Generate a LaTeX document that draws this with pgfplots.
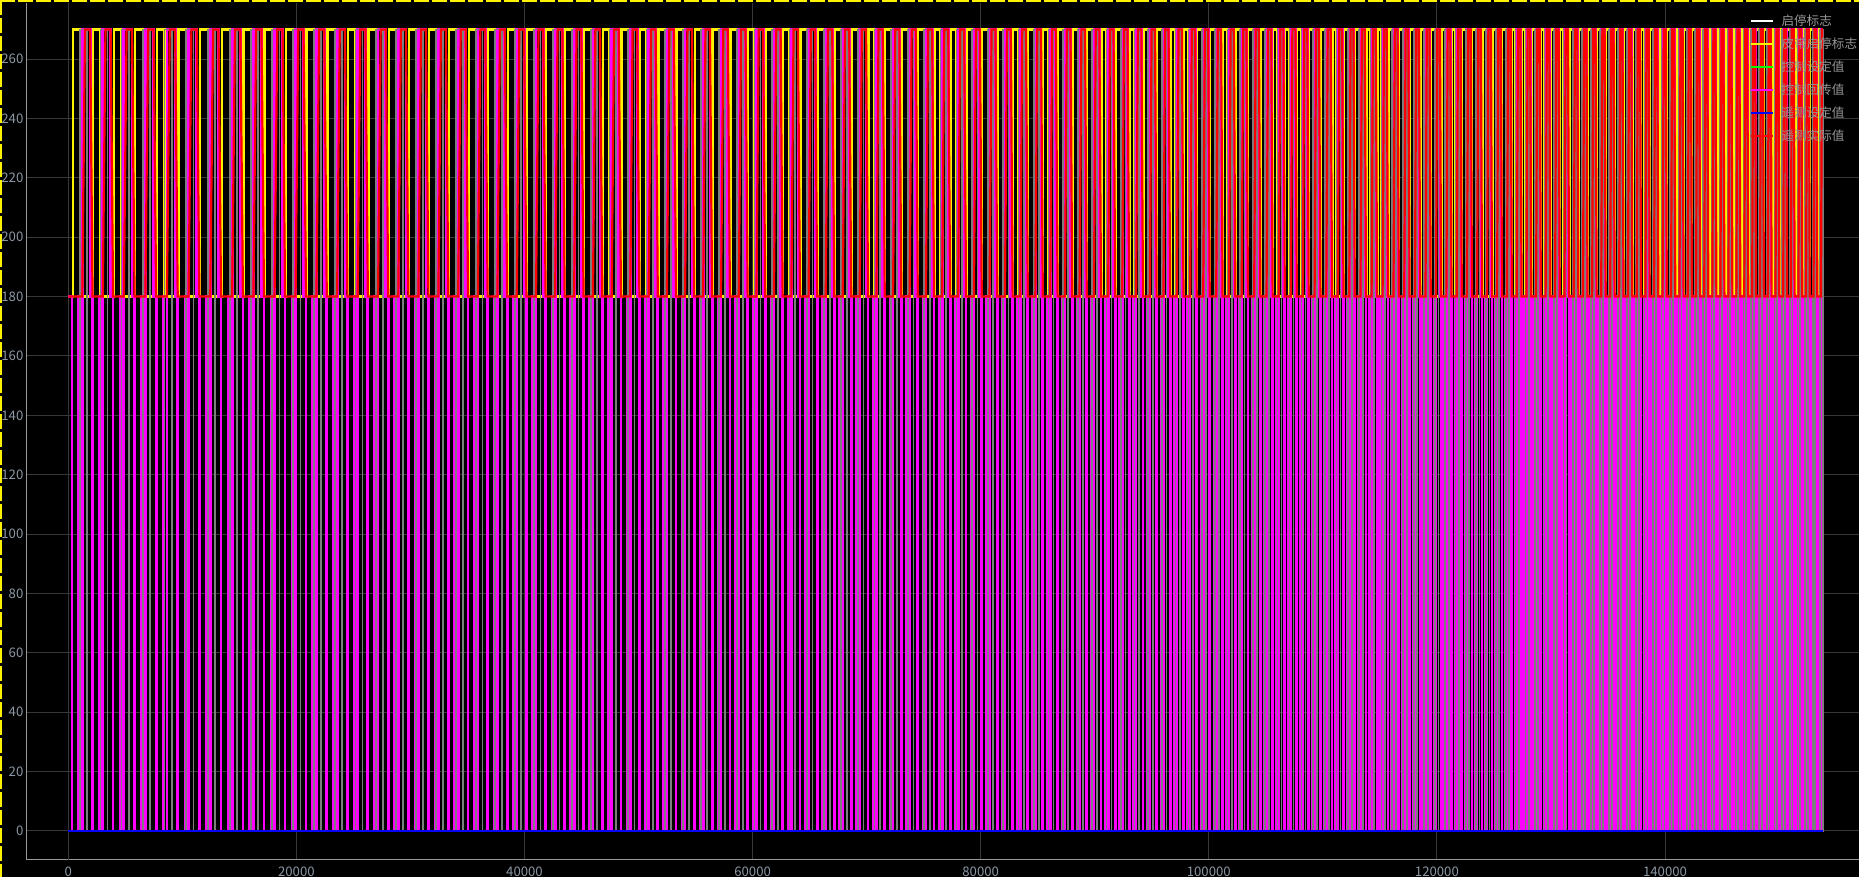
\documentclass[border=0pt]{standalone}
\usepackage{pgfplots}
\pgfplotsset{compat=1.18}
\usepackage{fontspec}
\setmainfont{Noto Sans CJK SC}
\definecolor{ticklab}{RGB}{140,152,165}
\definecolor{legtext}{RGB}{150,150,150}
\definecolor{mag}{RGB}{255,0,255}
\definecolor{flaggray}{RGB}{125,125,125}
\begin{document}
\begin{tikzpicture}
\fill[black] (0,0) rectangle (929.5pt,438.5pt);
\begin{axis}[
 at={(13.5pt,8.5pt)}, anchor=south west, scale only axis,
 width=916pt, height=428.5pt,
 xmin=-3621, xmax=157010, ymin=-9.8, ymax=278.9,
 axis lines*=left, axis line style={draw=white!60!black, line width=0.5pt},
 major tick length=0pt,
 xtick={0,20000,40000,60000,80000,100000,120000,140000}, ytick={0,20,...,260},
 scaled x ticks=false, scaled y ticks=false,
 /pgf/number format/fixed, /pgf/number format/precision=0,
 /pgf/number format/1000 sep={},
 /pgf/number format/assume math mode=true,
 grid=major, major grid style={draw=white!22!black, line width=0.5pt},
 extra x ticks={0}, extra x tick labels={}, extra x tick style={grid style={draw=white!50!black, line width=0.5pt}},
 extra y ticks={0,200}, extra y tick labels={}, extra y tick style={grid style={draw=white!50!black, line width=0.5pt}},
 tick label style={font=\fontsize{6.6}{8}\selectfont, text=ticklab},
 yticklabel style={inner xsep=1.6pt},
 legend image code/.code={\draw[#1, line width=1pt] (0pt,0pt) -- (11pt,0pt);},
 legend style={at={(0.94,0.987)}, anchor=north west, draw=none, fill=none,
   font=\fontsize{6.3}{7}\selectfont, text=legtext, inner sep=0pt, row sep=4.8pt,
   nodes={inner sep=0pt, text height=5.5pt, text depth=1.2pt},
   /tikz/every odd column/.append style={column sep=4pt}},
 legend cell align=left,
]
\addlegendimage{white}
\addlegendimage{yellow}
\addlegendimage{green}
\addlegendimage{mag}
\addlegendimage{blue}
\addlegendimage{red}
% 皮带启停标志
\addplot[forget plot, const plot, draw=yellow, line width=1.15pt] table[row sep=\\] {
0 180\\
383 270\\1031 180\\2180 270\\2828 180\\3980 270\\4660 180\\5870 270\\6550 180\\7760 270\\8440 180\\
9660 270\\10340 180\\11560 270\\12240 180\\13480 270\\14160 180\\15355 270\\16025 180\\17216 270\\17881 180\\
19064 270\\19724 180\\20898 270\\21554 180\\22719 270\\23370 180\\24527 270\\25173 180\\26322 270\\26964 180\\
28104 270\\28741 180\\29873 270\\30505 180\\31629 270\\32256 180\\33372 270\\33995 180\\35103 270\\35721 180\\
36821 270\\37435 180\\38527 270\\39137 180\\40221 270\\40826 180\\41902 270\\42503 180\\43571 270\\44168 180\\
45228 270\\45820 180\\46873 270\\47461 180\\48506 270\\49090 180\\50127 270\\50707 180\\51737 270\\52312 180\\
53335 270\\53906 180\\54921 270\\55488 180\\56496 270\\57059 180\\58059 270\\58618 180\\59611 270\\60166 180\\
61152 270\\61703 180\\62682 270\\63229 180\\64201 270\\64744 180\\65709 270\\66248 180\\67206 270\\67741 180\\
68692 270\\69223 180\\70167 270\\70694 180\\71631 270\\72154 180\\73085 270\\73604 180\\74528 270\\75041 180\\
75954 270\\76462 180\\77364 270\\77865 180\\78757 270\\79253 180\\80134 270\\80624 180\\81495 270\\81979 180\\
82840 270\\83319 180\\84170 270\\84643 180\\85484 270\\85952 180\\86783 270\\87245 180\\88067 270\\88524 180\\
89336 270\\89787 180\\90590 270\\91036 180\\91830 270\\92271 180\\93055 270\\93491 180\\94266 270\\94697 180\\
95463 270\\95889 180\\96646 270\\97067 180\\97816 270\\98232 180\\98972 270\\99383 180\\100115 270\\100521 180\\
101244 270\\101646 180\\102360 270\\102757 180\\103463 270\\103855 180\\104553 270\\104941 180\\105631 270\\106014 180\\
106696 270\\107075 180\\107749 270\\108124 180\\108790 270\\109160 180\\109819 270\\110185 180\\110836 270\\111198 180\\
111841 270\\112198 180\\112834 270\\113188 180\\113816 270\\114165 180\\114786 270\\115131 180\\115745 270\\116086 180\\
116693 270\\117031 180\\117632 270\\117967 180\\118563 270\\118895 180\\119486 270\\119815 180\\120401 270\\120728 180\\
121309 270\\121633 180\\122209 270\\122530 180\\123101 270\\123420 180\\123986 270\\124302 180\\124863 270\\125176 180\\
125733 270\\126043 180\\126595 270\\126903 180\\127450 270\\127755 180\\128298 270\\128600 180\\129138 270\\129438 180\\
129971 270\\130268 180\\130797 270\\131092 180\\131616 270\\131908 180\\132428 270\\132718 180\\133233 270\\133521 180\\
134032 270\\134317 180\\134824 270\\135107 180\\135609 270\\135889 180\\136387 270\\136665 180\\137159 270\\137434 180\\
137924 270\\138197 180\\138683 270\\138954 180\\139435 270\\139704 180\\140181 270\\140447 180\\140921 270\\141185 180\\
141654 270\\141916 180\\142381 270\\142641 180\\143102 270\\143359 180\\143817 270\\144072 180\\144525 270\\144778 180\\
145229 270\\145481 180\\145929 270\\146180 180\\146625 270\\146874 180\\147317 270\\147565 180\\148005 270\\148251 180\\
148689 270\\148934 180\\149369 270\\149612 180\\150045 270\\150287 180\\150718 270\\150959 180\\151387 270\\151627 180\\
152052 270\\152290 180\\152713 270\\152950 180\\153370 270\\153605 180\\153830 180\\
};
% 控制回传值
\addplot[forget plot, const plot, draw=mag, line width=1.4pt] table[row sep=\\] {
0 180\\329 0\\
923 180\\977 0\\1229 270\\1913 180\\2129 0\\
2720 180\\2774 0\\3026 270\\3710 180\\3926 0\\
4547 180\\4604 0\\4868 270\\5587 180\\5813 0\\
6437 180\\6494 0\\6758 270\\7477 180\\7703 0\\
8327 180\\8384 0\\8648 270\\9367 180\\9593 0\\
10227 180\\10284 0\\10548 270\\11267 180\\11493 0\\
12127 180\\12184 0\\12448 270\\13167 180\\13393 0\\
14047 180\\14104 0\\14368 270\\15087 180\\15313 0\\
15913 180\\15969 0\\16230 270\\16937 180\\17160 0\\
17770 180\\17826 0\\18085 270\\18787 180\\19009 0\\
19614 180\\19669 0\\19926 270\\20623 180\\20843 0\\
21444 180\\21499 0\\21754 270\\22446 180\\22664 0\\
23261 180\\23316 0\\23569 270\\24256 180\\24473 0\\
25066 180\\25119 0\\25371 270\\26053 180\\26268 0\\
26857 180\\26910 0\\27160 270\\27837 180\\28051 0\\
28635 180\\28688 0\\28935 270\\29608 180\\29820 0\\
30400 180\\30453 0\\30698 270\\31366 180\\31576 0\\
32152 180\\32204 0\\32448 270\\33111 180\\33320 0\\
33891 180\\33943 0\\34186 270\\34843 180\\35051 0\\
35618 180\\35670 0\\35910 270\\36563 180\\36769 0\\
37333 180\\37384 0\\37623 270\\38271 180\\38476 0\\
39035 180\\39086 0\\39323 270\\39967 180\\40170 0\\
40725 180\\40776 0\\41011 270\\41650 180\\41852 0\\
42403 180\\42453 0\\42686 270\\43321 180\\43521 0\\
44068 180\\44118 0\\44350 270\\44979 180\\45178 0\\
45722 180\\45771 0\\46001 270\\46626 180\\46824 0\\
47363 180\\47412 0\\47641 270\\48261 180\\48457 0\\
48992 180\\49041 0\\49268 270\\49884 180\\50078 0\\
50610 180\\50658 0\\50884 270\\51496 180\\51689 0\\
52216 180\\52264 0\\52488 270\\53095 180\\53287 0\\
53811 180\\53858 0\\54080 270\\54683 180\\54873 0\\
55394 180\\55441 0\\55661 270\\56260 180\\56449 0\\
56965 180\\57012 0\\57231 270\\57825 180\\58012 0\\
58525 180\\58571 0\\58788 270\\59378 180\\59564 0\\
60073 180\\60119 0\\60335 270\\60921 180\\61106 0\\
61611 180\\61657 0\\61871 270\\62453 180\\62636 0\\
63138 180\\63183 0\\63396 270\\63973 180\\64155 0\\
64653 180\\64699 0\\64910 270\\65483 180\\65664 0\\
66158 180\\66203 0\\66413 270\\66981 180\\67161 0\\
67652 180\\67696 0\\67904 270\\68469 180\\68647 0\\
69135 180\\69179 0\\69385 270\\69946 180\\70123 0\\
70606 180\\70650 0\\70855 270\\71411 180\\71587 0\\
72067 180\\72111 0\\72314 270\\72867 180\\73041 0\\
73518 180\\73561 0\\73763 270\\74312 180\\74485 0\\
74956 180\\74999 0\\75198 270\\75740 180\\75911 0\\
76377 180\\76419 0\\76617 270\\77153 180\\77322 0\\
77782 180\\77824 0\\78019 270\\78548 180\\78715 0\\
79170 180\\79211 0\\79404 270\\79927 180\\80093 0\\
80542 180\\80583 0\\80774 270\\81291 180\\81454 0\\
81899 180\\81939 0\\82127 270\\82638 180\\82800 0\\
83239 180\\83279 0\\83465 270\\83971 180\\84130 0\\
84564 180\\84604 0\\84788 270\\85287 180\\85445 0\\
85874 180\\85913 0\\86095 270\\86588 180\\86744 0\\
87168 180\\87207 0\\87386 270\\87874 180\\88028 0\\
88448 180\\88486 0\\88663 270\\89146 180\\89298 0\\
89712 180\\89750 0\\89925 270\\90402 180\\90552 0\\
90962 180\\90999 0\\91173 270\\91644 180\\91793 0\\
92198 180\\92234 0\\92406 270\\92871 180\\93018 0\\
93418 180\\93455 0\\93624 270\\94084 180\\94230 0\\
94625 180\\94661 0\\94829 270\\95283 180\\95427 0\\
95818 180\\95853 0\\96019 270\\96469 180\\96611 0\\
96997 180\\97032 0\\97196 270\\97641 180\\97781 0\\
98163 180\\98197 0\\98359 270\\98799 180\\98937 0\\
99315 180\\99349 0\\99509 270\\99944 180\\100081 0\\
100454 180\\100488 0\\100646 270\\101075 180\\101210 0\\
101579 180\\101612 0\\101769 270\\102193 180\\102327 0\\
102691 180\\102724 0\\102878 270\\103298 180\\103430 0\\
103790 180\\103823 0\\103975 270\\104390 180\\104520 0\\
104876 180\\104909 0\\105060 270\\105469 180\\105599 0\\
105951 180\\105983 0\\106132 270\\106536 180\\106664 0\\
107012 180\\107044 0\\107191 270\\107591 180\\107717 0\\
108061 180\\108093 0\\108238 270\\108634 180\\108759 0\\
109099 180\\109130 0\\109274 270\\109665 180\\109788 0\\
110124 180\\110155 0\\110297 270\\110683 180\\110805 0\\
111138 180\\111168 0\\111308 270\\111690 180\\111811 0\\
112139 180\\112169 0\\112308 270\\112685 180\\112804 0\\
113129 180\\113158 0\\113296 270\\113669 180\\113787 0\\
114107 180\\114136 0\\114272 270\\114641 180\\114757 0\\
115074 180\\115103 0\\115237 270\\115601 180\\115716 0\\
116029 180\\116058 0\\116191 270\\116551 180\\116665 0\\
116975 180\\117003 0\\117134 270\\117491 180\\117604 0\\
117911 180\\117939 0\\118070 270\\118423 180\\118535 0\\
118840 180\\118868 0\\118997 270\\119348 180\\119458 0\\
119761 180\\119788 0\\119916 270\\120264 180\\120374 0\\
120673 180\\120701 0\\120828 270\\121173 180\\121282 0\\
121579 180\\121606 0\\121732 270\\122074 180\\122182 0\\
122477 180\\122503 0\\122628 270\\122967 180\\123074 0\\
123367 180\\123393 0\\123517 270\\123853 180\\123959 0\\
124249 180\\124275 0\\124398 270\\124731 180\\124837 0\\
125124 180\\125150 0\\125272 270\\125603 180\\125707 0\\
125992 180\\126018 0\\126138 270\\126466 180\\126569 0\\
126852 180\\126877 0\\126997 270\\127322 180\\127424 0\\
127704 180\\127730 0\\127849 270\\128171 180\\128273 0\\
128550 180\\128575 0\\128693 270\\129012 180\\129113 0\\
129388 180\\129413 0\\129530 270\\129846 180\\129946 0\\
130219 180\\130244 0\\130359 270\\130673 180\\130772 0\\
131043 180\\131067 0\\131182 270\\131493 180\\131591 0\\
131860 180\\131884 0\\131998 270\\132306 180\\132404 0\\
132670 180\\132694 0\\132806 270\\133112 180\\133209 0\\
133473 180\\133497 0\\133609 270\\133912 180\\134008 0\\
134270 180\\134293 0\\134404 270\\134705 180\\134800 0\\
135060 180\\135083 0\\135193 270\\135491 180\\135585 0\\
135842 180\\135866 0\\135975 270\\136270 180\\136364 0\\
136619 180\\136642 0\\136750 270\\137043 180\\137136 0\\
137389 180\\137412 0\\137519 270\\137809 180\\137901 0\\
138152 180\\138175 0\\138281 270\\138569 180\\138660 0\\
138909 180\\138931 0\\139036 270\\139322 180\\139412 0\\
139659 180\\139681 0\\139786 270\\140069 180\\140159 0\\
140403 180\\140425 0\\140529 270\\140810 180\\140899 0\\
141141 180\\141163 0\\141266 270\\141544 180\\141632 0\\
141872 180\\141894 0\\141996 270\\142272 180\\142359 0\\
142597 180\\142619 0\\142720 270\\142994 180\\143080 0\\
143317 180\\143338 0\\143438 270\\143710 180\\143796 0\\
144029 180\\144051 0\\144150 270\\144419 180\\144504 0\\
144736 180\\144757 0\\144856 270\\145123 180\\145208 0\\
145439 180\\145460 0\\145558 270\\145824 180\\145908 0\\
146138 180\\146159 0\\146256 270\\146521 180\\146604 0\\
146833 180\\146853 0\\146950 270\\147213 180\\147296 0\\
147523 180\\147544 0\\147640 270\\147902 180\\147984 0\\
148210 180\\148231 0\\148326 270\\148586 180\\148668 0\\
148893 180\\148913 0\\149009 270\\149267 180\\149349 0\\
149572 180\\149592 0\\149687 270\\149944 180\\150025 0\\
150247 180\\150267 0\\150361 270\\150617 180\\150698 0\\
150919 180\\150939 0\\151032 270\\151287 180\\151367 0\\
151587 180\\151607 0\\151700 270\\151952 180\\152032 0\\
152250 180\\152270 0\\152363 270\\152614 180\\152693 0\\
152910 180\\152930 0\\153022 270\\153271 180\\153350 0\\
153566 180\\153586 0\\153677 270\\153830 270\\
};
% 启停标志 (shown grey)
\addplot[forget plot, const plot, draw=flaggray, line width=0.85pt] table[row sep=\\] {
0 0\\
1031 270\\1643 0\\2828 270\\3440 0\\4660 270\\5303 0\\6550 270\\7193 0\\8440 270\\9083 0\\
10340 270\\10983 0\\12240 270\\12883 0\\14160 270\\14803 0\\16025 270\\16658 0\\17881 270\\18510 0\\
19724 270\\20348 0\\21554 270\\22173 0\\23370 270\\23985 0\\25173 270\\25784 0\\26964 270\\27569 0\\
28741 270\\29342 0\\30505 270\\31102 0\\32256 270\\32849 0\\33995 270\\34584 0\\35721 270\\36306 0\\
37435 270\\38015 0\\39137 270\\39713 0\\40826 270\\41398 0\\42503 270\\43070 0\\44168 270\\44731 0\\
45820 270\\46380 0\\47461 270\\48016 0\\49090 270\\49641 0\\50707 270\\51254 0\\52312 270\\52856 0\\
53906 270\\54445 0\\55488 270\\56024 0\\57059 270\\57590 0\\58618 270\\59145 0\\60166 270\\60690 0\\
61703 270\\62223 0\\63229 270\\63745 0\\64744 270\\65257 0\\66248 270\\66757 0\\67741 270\\68246 0\\
69223 270\\69725 0\\70694 270\\71192 0\\72154 270\\72649 0\\73604 270\\74095 0\\75041 270\\75526 0\\
76462 270\\76941 0\\77865 270\\78339 0\\79253 270\\79721 0\\80624 270\\81087 0\\81979 270\\82437 0\\
83319 270\\83771 0\\84643 270\\85090 0\\85952 270\\86393 0\\87245 270\\87682 0\\88524 270\\88955 0\\
89787 270\\90214 0\\91036 270\\91458 0\\92271 270\\92688 0\\93491 270\\93903 0\\94697 270\\95104 0\\
95889 270\\96291 0\\97067 270\\97465 0\\98232 270\\98625 0\\99383 270\\99772 0\\100521 270\\100905 0\\
101646 270\\102025 0\\102757 270\\103132 0\\103855 270\\104226 0\\104941 270\\105308 0\\106014 270\\106377 0\\
107075 270\\107433 0\\108124 270\\108478 0\\109160 270\\109510 0\\110185 270\\110531 0\\111198 270\\111540 0\\
112198 270\\112536 0\\113188 270\\113521 0\\114165 270\\114495 0\\115131 270\\115457 0\\116086 270\\116409 0\\
117031 270\\117350 0\\117967 270\\118284 0\\118895 270\\119209 0\\119815 270\\120127 0\\120728 270\\121037 0\\
121633 270\\121939 0\\122530 270\\122833 0\\123420 270\\123721 0\\124302 270\\124600 0\\125176 270\\125472 0\\
126043 270\\126336 0\\126903 270\\127194 0\\127755 270\\128044 0\\128600 270\\128886 0\\129438 270\\129721 0\\
130268 270\\130549 0\\131092 270\\131370 0\\131908 270\\132184 0\\132718 270\\132992 0\\133521 270\\133792 0\\
134317 270\\134586 0\\135107 270\\135374 0\\135889 270\\136154 0\\136665 270\\136927 0\\137434 270\\137695 0\\
138197 270\\138455 0\\138954 270\\139209 0\\139704 270\\139957 0\\140447 270\\140699 0\\141185 270\\141434 0\\
141916 270\\142163 0\\142641 270\\142886 0\\143359 270\\143603 0\\144072 270\\144313 0\\144778 270\\145018 0\\
145481 270\\145719 0\\146180 270\\146416 0\\146874 270\\147109 0\\147565 270\\147799 0\\148251 270\\148484 0\\
148934 270\\149165 0\\149612 270\\149842 0\\150287 270\\150516 0\\150959 270\\151186 0\\151627 270\\151853 0\\
152290 270\\152515 0\\152950 270\\153173 0\\153605 270\\153828 0\\153830 0\\
};
% 遥测设定值
\addplot[forget plot, draw=blue, line width=1pt] table[row sep=\\] {
0 0\\153830 0\\
};
% 遥测实际值
\addplot[forget plot, draw=red, line width=1.1pt] table[row sep=\\] {
0 180\\
1229 180\\1463 270\\1913 270\\2129 180\\3026 180\\3260 270\\3710 270\\3926 180\\
4868 180\\5114 270\\5587 270\\5813 180\\6758 180\\7004 270\\7477 270\\7703 180\\
8648 180\\8894 270\\9367 270\\9593 180\\10548 180\\10794 270\\11267 270\\11493 180\\
12448 180\\12694 270\\13167 270\\13393 180\\14368 180\\14614 270\\15087 270\\15313 180\\
16230 180\\16472 270\\16937 270\\17160 180\\18085 180\\18325 270\\18787 270\\19009 180\\
19926 180\\20164 270\\20623 270\\20843 180\\21754 180\\21991 270\\22446 270\\22664 180\\
23569 180\\23804 270\\24256 270\\24473 180\\25371 180\\25604 270\\26053 270\\26268 180\\
27160 180\\27391 270\\27837 270\\28051 180\\28935 180\\29165 270\\29608 270\\29820 180\\
30698 180\\30927 270\\31366 270\\31576 180\\32448 180\\32675 270\\33111 270\\33320 180\\
34186 180\\34411 270\\34843 270\\35051 180\\35910 180\\36134 270\\36563 270\\36769 180\\
37623 180\\37845 270\\38271 270\\38476 180\\39323 180\\39543 270\\39967 270\\40170 180\\
41011 180\\41230 270\\41650 270\\41852 180\\42686 180\\42903 270\\43321 270\\43521 180\\
44350 180\\44565 270\\44979 270\\45178 180\\46001 180\\46215 270\\46626 270\\46824 180\\
47641 180\\47853 270\\48261 270\\48457 180\\49268 180\\49479 270\\49884 270\\50078 180\\
50884 180\\51093 270\\51496 270\\51689 180\\52488 180\\52696 270\\53095 270\\53287 180\\
54080 180\\54287 270\\54683 270\\54873 180\\55661 180\\55866 270\\56260 270\\56449 180\\
57231 180\\57434 270\\57825 270\\58012 180\\58788 180\\58990 270\\59378 270\\59564 180\\
60335 180\\60536 270\\60921 270\\61106 180\\61871 180\\62070 270\\62453 270\\62636 180\\
63396 180\\63593 270\\63973 270\\64155 180\\64910 180\\65106 270\\65483 270\\65664 180\\
66413 180\\66607 270\\66981 270\\67161 180\\67904 180\\68098 270\\68469 270\\68647 180\\
69385 180\\69577 270\\69946 270\\70123 180\\70855 180\\71045 270\\71411 270\\71587 180\\
72314 180\\72503 270\\72867 270\\73041 180\\73763 180\\73951 270\\74312 270\\74485 180\\
75198 180\\75384 270\\75740 270\\75911 180\\76617 180\\76800 270\\77153 270\\77322 180\\
78019 180\\78200 270\\78548 270\\78715 180\\79404 180\\79583 270\\79927 270\\80093 180\\
80774 180\\80951 270\\81291 270\\81454 180\\82127 180\\82302 270\\82638 270\\82800 180\\
83465 180\\83638 270\\83971 270\\84130 180\\84788 180\\84958 270\\85287 270\\85445 180\\
86095 180\\86263 270\\86588 270\\86744 180\\87386 180\\87553 270\\87874 270\\88028 180\\
88663 180\\88828 270\\89146 270\\89298 180\\89925 180\\90088 270\\90402 270\\90552 180\\
91173 180\\91334 270\\91644 270\\91793 180\\92406 180\\92565 270\\92871 270\\93018 180\\
93624 180\\93782 270\\94084 270\\94230 180\\94829 180\\94984 270\\95283 270\\95427 180\\
96019 180\\96173 270\\96469 270\\96611 180\\97196 180\\97348 270\\97641 270\\97781 180\\
98359 180\\98510 270\\98799 270\\98937 180\\99509 180\\99658 270\\99944 270\\100081 180\\
100646 180\\100792 270\\101075 270\\101210 180\\101769 180\\101914 270\\102193 270\\102327 180\\
102878 180\\103022 270\\103298 270\\103430 180\\103975 180\\104117 270\\104390 270\\104520 180\\
105060 180\\105200 270\\105469 270\\105599 180\\106132 180\\106270 270\\106536 270\\106664 180\\
107191 180\\107328 270\\107591 270\\107717 180\\108238 180\\108374 270\\108634 270\\108759 180\\
109274 180\\109407 270\\109665 270\\109788 180\\110297 180\\110429 270\\110683 270\\110805 180\\
111308 180\\111439 270\\111690 270\\111811 180\\112308 180\\112437 270\\112685 270\\112804 180\\
113296 180\\113423 270\\113669 270\\113787 180\\114272 180\\114398 270\\114641 270\\114757 180\\
115237 180\\115361 270\\115601 270\\115716 180\\116191 180\\116314 270\\116551 270\\116665 180\\
117134 180\\117256 270\\117491 270\\117604 180\\118070 180\\118191 270\\118423 270\\118535 180\\
118997 180\\119117 270\\119348 270\\119458 180\\119916 180\\120035 270\\120264 270\\120374 180\\
120828 180\\120946 270\\121173 270\\121282 180\\121732 180\\121849 270\\122074 270\\122182 180\\
122628 180\\122744 270\\122967 270\\123074 180\\123517 180\\123632 270\\123853 270\\123959 180\\
124398 180\\124512 270\\124731 270\\124837 180\\125272 180\\125385 270\\125603 270\\125707 180\\
126138 180\\126250 270\\126466 270\\126569 180\\126997 180\\127108 270\\127322 270\\127424 180\\
127849 180\\127959 270\\128171 270\\128273 180\\128693 180\\128802 270\\129012 270\\129113 180\\
129530 180\\129638 270\\129846 270\\129946 180\\130359 180\\130467 270\\130673 270\\130772 180\\
131182 180\\131288 270\\131493 270\\131591 180\\131998 180\\132103 270\\132306 270\\132404 180\\
132806 180\\132911 270\\133112 270\\133209 180\\133609 180\\133712 270\\133912 270\\134008 180\\
134404 180\\134507 270\\134705 270\\134800 180\\135193 180\\135295 270\\135491 270\\135585 180\\
135975 180\\136076 270\\136270 270\\136364 180\\136750 180\\136850 270\\137043 270\\137136 180\\
137519 180\\137618 270\\137809 270\\137901 180\\138281 180\\138379 270\\138569 270\\138660 180\\
139036 180\\139134 270\\139322 270\\139412 180\\139786 180\\139883 270\\140069 270\\140159 180\\
140529 180\\140625 270\\140810 270\\140899 180\\141266 180\\141361 270\\141544 270\\141632 180\\
141996 180\\142090 270\\142272 270\\142359 180\\142720 180\\142814 270\\142994 270\\143080 180\\
143438 180\\143531 270\\143710 270\\143796 180\\144150 180\\144242 270\\144419 270\\144504 180\\
144856 180\\144947 270\\145123 270\\145208 180\\145558 180\\145649 270\\145824 270\\145908 180\\
146256 180\\146347 270\\146521 270\\146604 180\\146950 180\\147040 270\\147213 270\\147296 180\\
147640 180\\147730 270\\147902 270\\147984 180\\148326 180\\148415 270\\148586 270\\148668 180\\
149009 180\\149097 270\\149267 270\\149349 180\\149687 180\\149775 270\\149944 270\\150025 180\\
150361 180\\150449 270\\150617 270\\150698 180\\151032 180\\151119 270\\151287 270\\151367 180\\
151700 180\\151786 270\\151952 270\\152032 180\\152363 180\\152449 270\\152614 270\\152693 180\\
153022 180\\153107 270\\153271 270\\153350 180\\153677 180\\153762 270\\153830 270\\
};
\legend{启停标志,皮带启停标志,控制设定值,控制回传值,遥测设定值,遥测实际值}
\end{axis}
\draw[yellow, line width=1pt, dash pattern=on 7.5pt off 1.5pt] (0,438pt) -- (929.5pt,438pt);
\draw[yellow, line width=1pt, dash pattern=on 7.5pt off 1.5pt] (0.5pt,438.5pt) -- (0.5pt,0);
\pgfresetboundingbox
\path[use as bounding box] (0,0) rectangle (929.5pt,438.5pt);
\end{tikzpicture}
\end{document}
